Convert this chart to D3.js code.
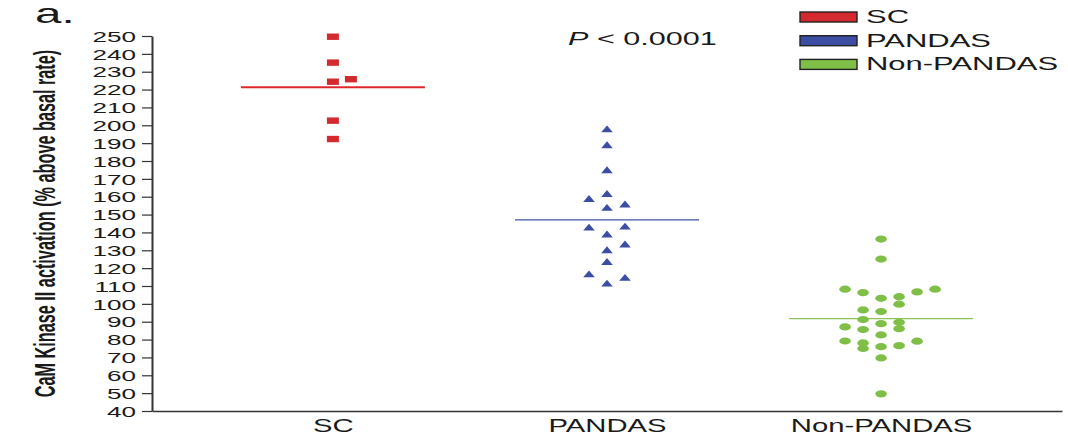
<!DOCTYPE html>
<html>
<head>
<meta charset="utf-8">
<script src="https://cdn.jsdelivr.net/npm/d3@7"></script>
<style>
  body { margin: 0; background: #fff; }
  text { font-family: "Liberation Sans", Arial, sans-serif; fill: #1a1a1a; }
</style>
</head>
<body>
<script>
//groups and values
var categories = ["SC", "PANDAS", "Non-PANDAS"];
var colors = ["#d22a2f", "#3c4ea3", "#7fbf48"];
var lineColors = ["#e0262b", "#4355a8", "#8cc25e"];
var means = [221.3, 147, 91.7];

//values per group, with the dot-plot column each point sits in
var scValues = [249.6, 235.1, 224.4, 225.8, 202.6, 192.3];
var scCols   = [0, 0, 0, 1, 0, 0];

var pandasValues = [197.9, 189, 175, 161.7, 158.9, 153.9, 155.8, 142.9, 143.4, 139, 133.4, 130.2, 123.6, 116.7, 114.7, 111.5];
var pandasCols   = [0, 0, 0, 0, -1, 0, 1, -1, 1, 0, 1, 0, 0, -1, 1, 0];

var nonValues = [136.3, 125.1, 108.2, 108.2, 106.3, 106.7, 103.1, 104, 99.8, 96.6, 95.7, 91.2, 88.9, 89.7, 87.1, 85.6, 86.1, 82.6, 79.2, 78.1, 79.1, 75, 76, 76.6, 69.7, 49.6];
var nonCols   = [0, 0, -2, 3, -1, 2, 0, 1, 1, -1, 0, -1, 0, 1, -2, -1, 1, 0, -2, -1, 2, -1, 0, 1, 0, 0];

var yTicks = d3.range(40, 251, 10);
var pLabel = "< 0.0001";

var width = 1068, height = 438;
var plotLeft = 152, plotRight = 1062, plotTop = 36, plotBottom = 411;

var svg = d3.select("body").append("svg")
    .attr("width", width)
    .attr("height", height);

var y = d3.scaleLinear().domain([40, 250]).range([plotBottom, plotTop]);
var x = d3.scalePoint().domain(categories).range([plotLeft, plotRight]).padding(0.66);
var colStep = 18;

//stretched text helper (the figure is wider than it is tall)
function label(g, px, py, str, size, sx, anchor, weight){
    var t = g.append("g")
        .attr("transform", "translate(" + px + "," + py + ")")
        .append("text")
        .attr("transform", "scale(" + sx + ",1)")
        .attr("text-anchor", anchor || "start")
        .style("font-size", size + "px")
        .style("font-weight", weight || "normal")
        .text(str);
    return t;
}

//y axis
var yAxis = svg.append("g")
    .attr("transform", "translate(" + plotLeft + ",0)")
    .call(d3.axisLeft(y).tickValues(yTicks).tickSize(10).tickSizeOuter(0));
yAxis.select(".domain").attr("stroke", "#333").attr("stroke-width", 2);
yAxis.selectAll(".tick line").attr("stroke", "#333").attr("stroke-width", 1.2);
yAxis.selectAll(".tick text")
    .attr("x", 0).attr("dy", "0.36em")
    .attr("transform", "translate(-16,0) scale(1.8,1)")
    .style("font-size", "14.5px")
    .style("font-family", "'Liberation Sans', Arial, sans-serif")
    .attr("fill", "#1a1a1a");

//x axis
var xAxis = svg.append("g")
    .attr("transform", "translate(0," + plotBottom + ")")
    .call(d3.axisBottom(x).tickSize(0).tickSizeOuter(0));
xAxis.select(".domain").attr("stroke", "#333").attr("stroke-width", 1.6);
xAxis.selectAll(".tick text")
    .attr("y", 0).attr("dy", 0)
    .attr("transform", "translate(0,21) scale(1.54,1)")
    .style("font-size", "19px")
    .style("font-family", "'Liberation Sans', Arial, sans-serif")
    .attr("fill", "#1a1a1a");

//axis title
svg.append("text")
    .attr("transform", "translate(55," + ((plotTop + plotBottom) / 2) + ") rotate(-90) scale(0.56,1)")
    .attr("text-anchor", "middle")
    .style("font-size", "29px")
    .style("font-weight", "bold")
    .text("CaM Kinase II activation (% above basal rate)");

//panel letter
label(svg, 35, 23, "a.", 28, 1.7);

//mean lines
svg.selectAll(".mean")
    .data(means)
    .enter()
    .append("line")
    .attr("class", "mean")
    .attr("x1", function(d, i){ return x(categories[i]) - 92; })
    .attr("x2", function(d, i){ return x(categories[i]) + 92; })
    .attr("y1", function(d){ return y(d); })
    .attr("y2", function(d){ return y(d); })
    .attr("stroke", function(d, i){ return lineColors[i]; })
    .attr("stroke-width", function(d, i){ return i == 0 ? 2 : 1.3; });

//SC squares
svg.selectAll(".sc")
    .data(scValues)
    .enter()
    .append("rect")
    .attr("class", "sc")
    .attr("x", function(d, i){ return x("SC") + scCols[i] * colStep - 6; })
    .attr("y", function(d){ return y(d) - 3.2; })
    .attr("width", 12)
    .attr("height", 6.4)
    .attr("fill", colors[0]);

//PANDAS triangles
svg.selectAll(".pandas")
    .data(pandasValues)
    .enter()
    .append("path")
    .attr("class", "pandas")
    .attr("transform", function(d, i){
        return "translate(" + (x("PANDAS") + pandasCols[i] * colStep) + "," + y(d) + ")";
    })
    .attr("d", "M-5.8,3.2L0,-3.6L5.8,3.2Z")
    .attr("fill", colors[1]);

//Non-PANDAS dots
svg.selectAll(".non")
    .data(nonValues)
    .enter()
    .append("ellipse")
    .attr("class", "non")
    .attr("cx", function(d, i){ return x("Non-PANDAS") + nonCols[i] * colStep; })
    .attr("cy", function(d){ return y(d); })
    .attr("rx", 5.8)
    .attr("ry", 3.6)
    .attr("fill", colors[2]);

//P value
var pg = svg.append("g").attr("transform", "translate(568,45)");
var pt = pg.append("text")
    .attr("transform", "scale(1.7,1)")
    .style("font-size", "18px");
pt.append("tspan").style("font-style", "italic").text("P");
pt.append("tspan").text(" " + pLabel);

//legend
var legend = svg.selectAll(".legend")
    .data(categories)
    .enter()
    .append("g")
    .attr("class", "legend")
    .attr("transform", function(d, i){ return "translate(800," + (12 + i * 23.7) + ")"; });
legend.append("rect")
    .attr("width", 57)
    .attr("height", 10)
    .attr("fill", function(d, i){ return colors[i]; })
    .attr("stroke", "#222")
    .attr("stroke-width", 1.4);
legend.each(function(d){
    label(d3.select(this), 66, 10.8, d, 18, 1.72);
});
</script>
</body>
</html>
